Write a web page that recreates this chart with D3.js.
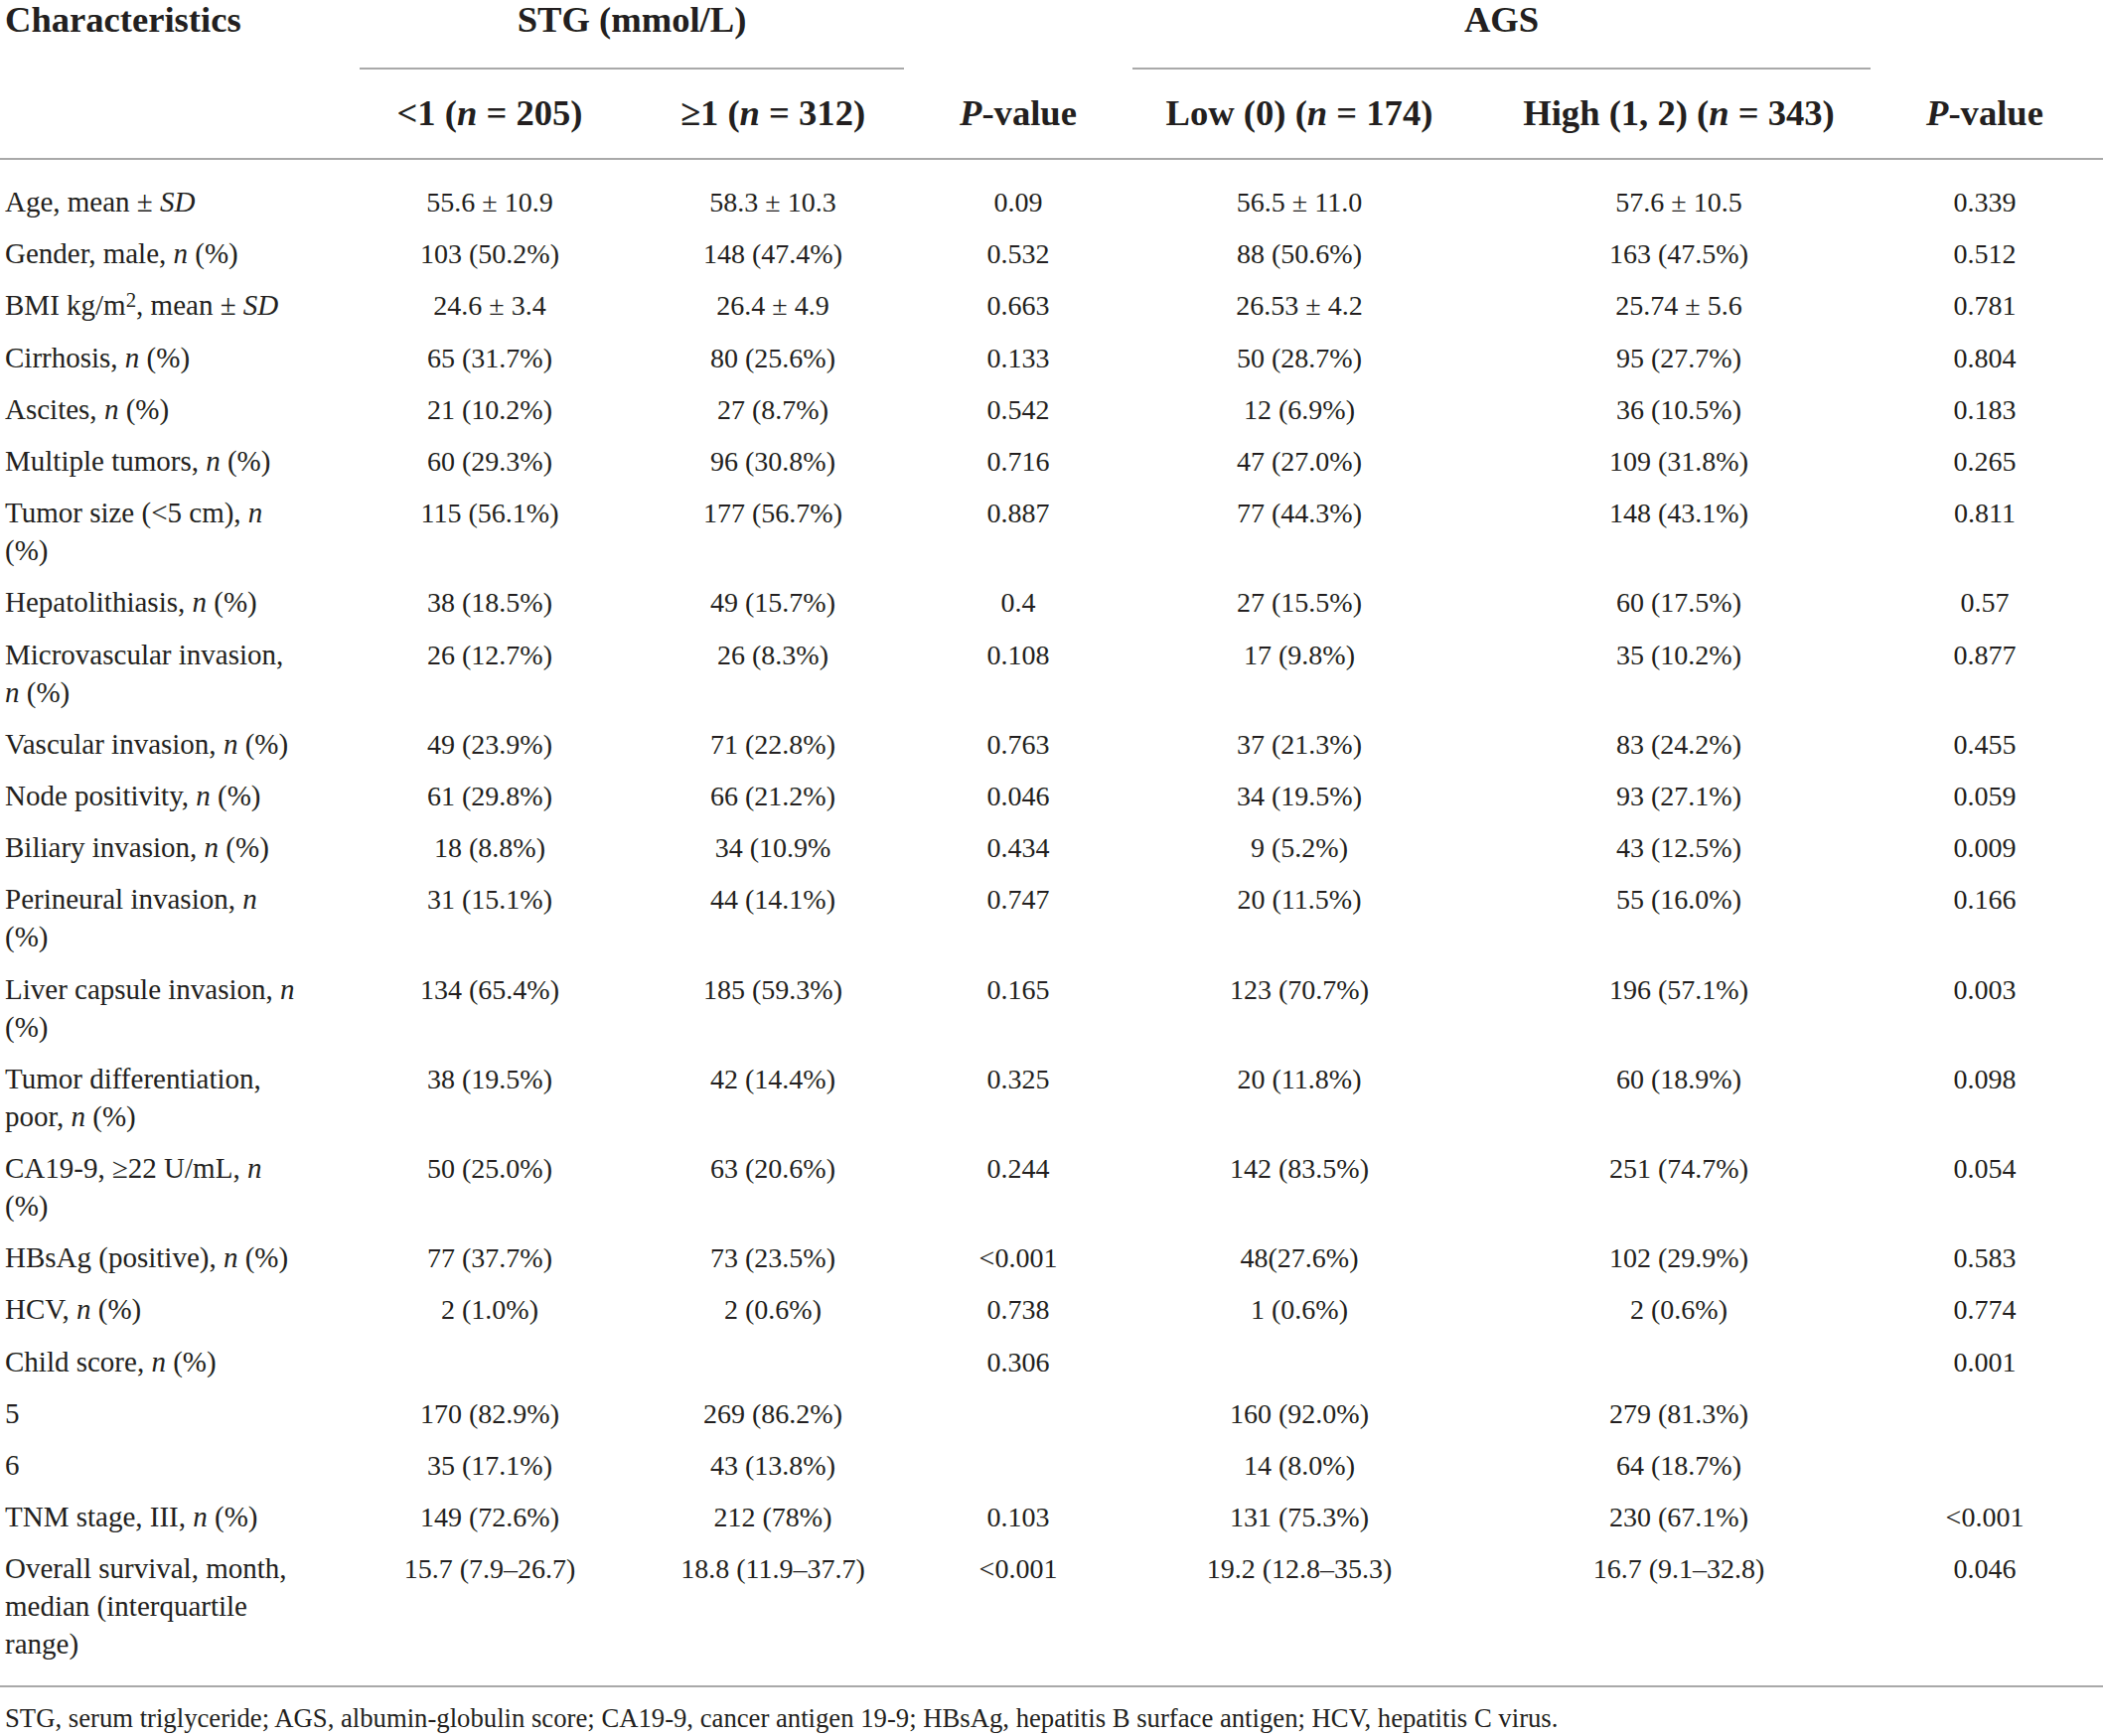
<!DOCTYPE html>
<html>
<head>
<meta charset="utf-8">
<script src="https://cdn.jsdelivr.net/npm/d3@7"></script>
<style>
  html, body { margin: 0; padding: 0; background: #fff; }
  svg { display: block; }
  text { font-family: "Liberation Serif", "Times New Roman", serif; fill: #231f20; }
</style>
</head>
<body>
<script>
// ---------------- DATA ----------------
const groupHeaders = ["STG (mmol/L)", "AGS"];
const columnHeaders = ["<1 (*n* = 205)", "≥1 (*n* = 312)", "*P*-value", "Low (0) (*n* = 174)", "High (1, 2) (*n* = 343)", "*P*-value"];
const characteristics = [
  ["Age, mean ± *SD*"],
  ["Gender, male, *n* (%)"],
  ["BMI kg/m^2^, mean ± *SD*"],
  ["Cirrhosis, *n* (%)"],
  ["Ascites, *n* (%)"],
  ["Multiple tumors, *n* (%)"],
  ["Tumor size (<5 cm), *n*", "(%)"],
  ["Hepatolithiasis, *n* (%)"],
  ["Microvascular invasion,", "*n* (%)"],
  ["Vascular invasion, *n* (%)"],
  ["Node positivity, *n* (%)"],
  ["Biliary invasion, *n* (%)"],
  ["Perineural invasion, *n*", "(%)"],
  ["Liver capsule invasion, *n*", "(%)"],
  ["Tumor differentiation,", "poor, *n* (%)"],
  ["CA19-9, ≥22 U/mL, *n*", "(%)"],
  ["HBsAg (positive), *n* (%)"],
  ["HCV, *n* (%)"],
  ["Child score, *n* (%)"],
  ["5"],
  ["6"],
  ["TNM stage, III, *n* (%)"],
  ["Overall survival, month,", "median (interquartile", "range)"]
];
const stgLow = ["55.6 ± 10.9","103 (50.2%)","24.6 ± 3.4","65 (31.7%)","21 (10.2%)","60 (29.3%)","115 (56.1%)","38 (18.5%)","26 (12.7%)","49 (23.9%)","61 (29.8%)","18 (8.8%)","31 (15.1%)","134 (65.4%)","38 (19.5%)","50 (25.0%)","77 (37.7%)","2 (1.0%)","","170 (82.9%)","35 (17.1%)","149 (72.6%)","15.7 (7.9–26.7)"];
const stgHigh = ["58.3 ± 10.3","148 (47.4%)","26.4 ± 4.9","80 (25.6%)","27 (8.7%)","96 (30.8%)","177 (56.7%)","49 (15.7%)","26 (8.3%)","71 (22.8%)","66 (21.2%)","34 (10.9%","44 (14.1%)","185 (59.3%)","42 (14.4%)","63 (20.6%)","73 (23.5%)","2 (0.6%)","","269 (86.2%)","43 (13.8%)","212 (78%)","18.8 (11.9–37.7)"];
const stgP = ["0.09","0.532","0.663","0.133","0.542","0.716","0.887","0.4","0.108","0.763","0.046","0.434","0.747","0.165","0.325","0.244","<0.001","0.738","0.306","","","0.103","<0.001"];
const agsLow = ["56.5 ± 11.0","88 (50.6%)","26.53 ± 4.2","50 (28.7%)","12 (6.9%)","47 (27.0%)","77 (44.3%)","27 (15.5%)","17 (9.8%)","37 (21.3%)","34 (19.5%)","9 (5.2%)","20 (11.5%)","123 (70.7%)","20 (11.8%)","142 (83.5%)","48(27.6%)","1 (0.6%)","","160 (92.0%)","14 (8.0%)","131 (75.3%)","19.2 (12.8–35.3)"];
const agsHigh = ["57.6 ± 10.5","163 (47.5%)","25.74 ± 5.6","95 (27.7%)","36 (10.5%)","109 (31.8%)","148 (43.1%)","60 (17.5%)","35 (10.2%)","83 (24.2%)","93 (27.1%)","43 (12.5%)","55 (16.0%)","196 (57.1%)","60 (18.9%)","251 (74.7%)","102 (29.9%)","2 (0.6%)","","279 (81.3%)","64 (18.7%)","230 (67.1%)","16.7 (9.1–32.8)"];
const agsP = ["0.339","0.512","0.781","0.804","0.183","0.265","0.811","0.57","0.877","0.455","0.059","0.009","0.166","0.003","0.098","0.054","0.583","0.774","0.001","","","<0.001","0.046"];
const footnote = "STG, serum triglyceride; AGS, albumin-globulin score; CA19-9, cancer antigen 19-9; HBsAg, hepatitis B surface antigen; HCV, hepatitis C virus.";

// ---------------- LAYOUT ----------------
const W = 2117, H = 1748;
const colKeys = ["stgLow","stgHigh","stgP","agsLow","agsHigh","agsP"];
const colValues = [stgLow, stgHigh, stgP, agsLow, agsHigh, agsP];
const x = d3.scaleOrdinal().domain(colKeys).range([493, 778, 1025, 1308, 1690, 1998]);

const ROW = 52.2, EXTRA = 38, FIRST = 213;
let extra = 0;
const rowInfo = characteristics.map((lines, i) => {
  const r = { i, lines, extraBefore: extra };
  extra += lines.length - 1;
  return r;
});
const yRow = d3.scaleLinear().domain([0, 1]).range([FIRST, FIRST + ROW]);
const yExtra = d3.scaleLinear().domain([0, 1]).range([0, EXTRA]);
const yOf = r => yRow(r.i) + yExtra(r.extraBefore);

const LABEL = 29, BODY = 28, HEAD = 36.6, FOOT = 26.7;

const svg = d3.select("body").append("svg").attr("width", W).attr("height", H)
  .attr("viewBox", `0 0 ${W} ${H}`);
svg.append("rect").attr("width", W).attr("height", H).attr("fill", "#fff");

function rich(sel, str) {
  const parts = str.split(/(\*[^*]+\*|\^[^^]+\^)/).filter(s => s.length);
  parts.forEach(p => {
    if (p.startsWith("*")) {
      sel.append("tspan").attr("font-style", "italic").text(p.slice(1, -1));
    } else if (p.startsWith("^")) {
      sel.append("tspan").attr("baseline-shift", "40%").attr("font-size", "72%").text(p.slice(1, -1));
    } else {
      sel.append("tspan").text(p);
    }
  });
}

// header
svg.append("text").attr("x", 5).attr("y", 32).attr("font-size", HEAD).attr("font-weight", "bold").text("Characteristics");
const groupSpan = [[362, 910], [1140, 1883]];
groupHeaders.forEach((g, i) => {
  svg.append("text").attr("x", (groupSpan[i][0] + groupSpan[i][1]) / 2).attr("y", 32)
    .attr("text-anchor", "middle").attr("font-size", HEAD).attr("font-weight", "bold").text(g);
  svg.append("line").attr("x1", groupSpan[i][0]).attr("x2", groupSpan[i][1]).attr("y1", 69).attr("y2", 69)
    .attr("stroke", "#8c8c8c").attr("stroke-width", 1.6);
});
columnHeaders.forEach((h, i) => {
  const t = svg.append("text").attr("x", x(colKeys[i])).attr("y", 126)
    .attr("text-anchor", "middle").attr("font-size", HEAD).attr("font-weight", "bold");
  rich(t, h);
});
svg.append("line").attr("x1", 0).attr("x2", W).attr("y1", 160).attr("y2", 160)
  .attr("stroke", "#8c8c8c").attr("stroke-width", 1.6);

// body rows
const rows = svg.append("g").selectAll("g.row").data(rowInfo).join("g").attr("class", "row");
rows.each(function(r) {
  const g = d3.select(this);
  const y0 = yOf(r);
  r.lines.forEach((ln, k) => {
    const t = g.append("text").attr("x", 5).attr("y", y0 + k * EXTRA).attr("font-size", LABEL);
    rich(t, ln);
  });
  colKeys.forEach((c, j) => {
    const v = colValues[j][r.i];
    if (v) g.append("text").attr("x", x(c)).attr("y", y0).attr("text-anchor", "middle")
      .attr("font-size", BODY).text(v);
  });
});

// bottom rule and footnote
svg.append("line").attr("x1", 0).attr("x2", W).attr("y1", 1698).attr("y2", 1698)
  .attr("stroke", "#8c8c8c").attr("stroke-width", 1.6);
svg.append("text").attr("x", 5).attr("y", 1739).attr("font-size", FOOT).text(footnote);
</script>
</body>
</html>
